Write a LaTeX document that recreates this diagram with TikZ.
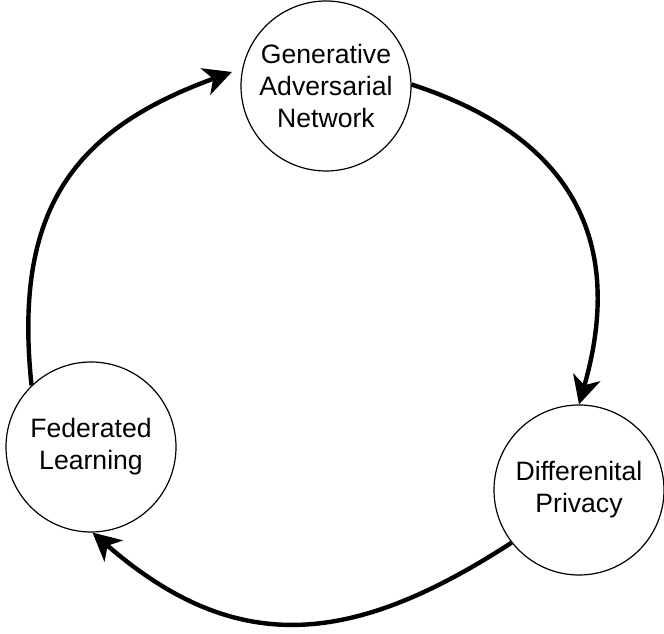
\documentclass[tikz,border=0pt]{standalone}
\usepackage{fontspec}
\setmainfont{Liberation Sans}
\usetikzlibrary{arrows.meta}

\tikzset{
	stage/.style={circle,draw=black,line width=1.2pt,minimum size=170pt,inner sep=0pt,align=center,
		font=\fontsize{26.6}{32}\selectfont},
	flow/.style={line width=4.4pt,-{Stealth[length=28pt,width=28pt,inset=8pt]}}
}

\begin{document}
\begin{tikzpicture}[x=1pt,y=1pt]
		\useasboundingbox (0,0) rectangle (664,634);
		
		% the three circles
		\node[stage] (gan) at (326,548) {Generative\\Adversarial\\Network};
		\node[stage] (fl) at (91,187) {Federated\\Learning};
		\node[stage] (dp) at (579,144) {Differenital\\Privacy};
		
		% the cycle
		\draw[flow] (gan.1) to[out=-18,in=74,looseness=1.2] (dp.north);
		\draw[flow] (dp.218) to[out=213,in=-41,looseness=1.16] (fl.-89);
		\draw[flow,shorten >=11pt] (fl.134) to[out=96,in=200,looseness=1.2] (gan.168);
	\end{tikzpicture}
\end{document}
